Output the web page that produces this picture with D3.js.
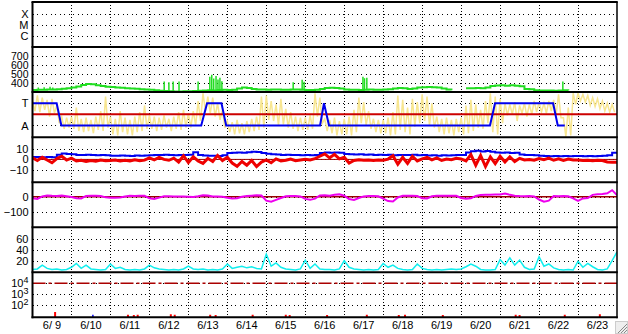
<!DOCTYPE html>
<html>
<head>
<meta charset="utf-8">
<script src="https://cdn.jsdelivr.net/npm/d3@7"></script>
<style>
body { margin: 0; background: #fff; }
svg { display: block; font-family: "Liberation Sans", Arial, sans-serif; font-size: 11px; }
</style>
</head>
<body>
<svg width="628" height="334"></svg>
<script>

// all series are 3-hour samples starting 6/9 00:00 UT
const startDay = Date.UTC(2000, 5, 9);
const stepHours = 3;
const nDays = 15;

// solar wind speed (km/s), null = no data
const speed = [
    322, 325, 326, 328, 330, 333, 338, 344,
    352, 362, 378, 390, 386, 375, 368, 360,
    356, 352, 348, 344, 340, 336, 332, 328,
    325, 320, 316, 312, 310, 308, 308, 310,
    310, 312, 315, 318, 320, 318, 322, 325,
    322, 325, 340, 350, 345, 335, 330, 328,
    326, 330, 328, 325, 327, 330, 328, 325,
    324, 322, 325, 335, 345, 348, 345, 340,
    330, 326, 325, 322, 325, 328, 326, 325,
    328, 332, 340, 345, 343, 335, 340, 350,
    355, 357, 355, 350, 340, 330, 320, null,
    null, 342, 344, 346, 344, 350, 368, 373,
    375, 372, 376, 370, 365, 335, 332, 320,
    318, 317, 318, 316, 318, 320, 318, null,
    null, null, null, null, null, null, null, null
];
const speedSpikeDays = [0.15, 0.3, 0.45, 0.52, 3.38, 3.5, 3.61, 3.76, 4.25, 4.55, 4.6, 4.65, 4.71, 4.76, 4.81, 4.86, 6.69, 6.92, 6.97, 8.48, 8.52, 8.58, 13.61];
const speedSpikeValues = [350, 355, 360, 352, 418, 410, 418, 418, 418, 470, 492, 450, 480, 440, 460, 420, 410, 437, 414, 470, 455, 460, 418];

// IMF sector: 1 = T (toward), -1 = A (away)
const sectorDays = [0, 0.62, 0.74, 4.33, 4.48, 4.85, 4.97, 7.38, 7.48, 7.61, 11.74, 11.87, 13.36, 13.48, 13.66];
const sectorValues = [1, 1, -1, -1, 1, 1, -1, -1, 1, -1, -1, 1, 1, -1, -1];
const sectorTicks = [1, -1];
const sectorLabels = ["T", "A"];

// measured field angle, high and low of each 3-hour bin (sector units)
const phiHigh = [
    1.2, 1.7, 1.5, 1.3, 1.4, 0.8, -0.2, -0.3,
    -0.2, 0.6, -0.4, -0.3, -0.5, -0.2, 0.3, 1.6,
    -0.2, -0.4, 0.3, -0.3, -0.5, -0.2, 0.2, 0.8,
    -0.1, -0.2, -0.3, -0.1, -0.4, -0.2, 0.2, 0.4,
    0.1, 0.3, 1.2, 1.9, 1.6, 1.5, 1.0, 0.4,
    -0.6, -0.7, -0.5, -0.8, -0.6, -0.4, -0.2, 1.6,
    1.7, 1.2, 0.9, 1.4, 0.5, 0.2, -0.2, -0.3,
    -0.3, -0.1, 1.9, 1.5, -0.4, -0.5, -0.3, -0.6,
    -0.4, -0.2, 0.4, 1.5, 1.1, 0.3, -0.4, -0.5,
    -0.5, -0.3, 0.2, 1.7, 1.3, 0.6, 1.4, 1.1,
    1.8, 1.6, 1.0, -0.2, -0.4, -0.3, -0.5, -0.4,
    -0.3, 0.8, 1.3, 0.9, 0.4, 1.2, 1.9, 1.6,
    1.4, 1.0, 0.9, 1.1, 0.8, 1.0, 0.9, 1.2,
    1.1, 1.0, 1.2, 1.3, 1.8, -0.3, 0.6, 1.9,
    1.9, 1.8, 1.7, 1.5, 1.4, 1.2, 1.0, 0.9
];
const phiLow = [
    0.3, 0.2, 0.4, -0.2, 0.1, -0.8, -1.3, -1.2,
    -1.3, -1.5, -1.6, -1.5, -1.7, -1.4, -1.5, -1.2,
    -1.8, -1.9, -1.6, -1.8, -1.9, -1.6, -1.5, -1.3,
    -1.3, -1.5, -1.4, -1.2, -1.5, -1.3, -1.4, -1.2,
    -1.2, -1.0, -0.6, 0.3, 0.1, -0.2, -0.5, -1.2,
    -1.6, -1.8, -1.7, -1.8, -1.6, -1.5, -1.4, -1.2,
    -0.5, -0.6, -1.0, -0.9, -1.2, -1.3, -1.5, -1.4,
    -1.4, -1.3, -0.2, -0.8, -1.5, -1.7, -1.9, -1.8,
    -1.8, -1.9, -1.6, -0.8, -1.0, -1.3, -1.6, -1.7,
    -1.7, -1.9, -1.8, -1.4, -1.6, -1.8, -1.1, -0.8,
    -0.6, -1.0, -1.2, -1.6, -1.8, -1.7, -1.9, -1.6,
    -1.8, -1.7, -1.5, -1.2, -1.3, -0.8, -1.6, -1.8,
    -0.8, -0.1, 0.0, -0.6, 0.1, -0.2, 0.0, 0.2,
    0.2, 0.1, 0.3, 0.0, -0.3, -2.0, -1.9, 0.9,
    1.2, 1.1, 0.8, 0.7, 0.5, 0.3, 0.2, 0.2
];

// Bt and Bz (nT)
const bt = [
    2.4, 2.2, 2.0, 2.3, 2.1, 4.5, 5.6, 5.2,
    4.8, 4.3, 4.1, 4.4, 4.2, 4.0, 4.3, 3.9,
    3.6, 3.4, 3.8, 3.5, 3.3, 3.7, 3.5, 3.8,
    4.0, 4.3, 4.1, 4.4, 4.2, 4.0, 4.3, 4.1,
    4.5, 6.8, 4.2, 3.8, 3.4, 3.6, 3.2, 4.0,
    6.2, 6.4, 6.5, 6.3, 6.8, 7.2, 7.0, 6.0,
    5.5, 5.0, 4.6, 4.2, 4.4, 4.1, 4.3, 4.0,
    4.2, 4.0, 4.3, 6.2, 6.5, 6.3, 6.6, 6.4,
    5.2, 4.8, 4.6, 4.9, 4.4, 4.7, 4.3, 4.5,
    4.2, 4.4, 4.0, 4.3, 4.1, 4.2, 4.4, 4.0,
    4.1, 3.8, 4.0, 3.6, 3.9, 3.7, 4.0, 4.2,
    4.3, 6.5, 7.8, 8.2, 7.6, 8.0, 7.2, 6.5,
    6.3, 6.6, 6.2, 6.4, 4.6, 4.3, 4.1, 4.0,
    3.4, 3.2, 3.0, 3.3, 3.1, 3.2, 3.0, 3.3,
    3.2, 3.0, 3.3, 3.1, 3.2, 3.4, 4.0, 6.4,
    6.4
];
const bz = [
    1.5, -1.0, 2.0, -0.5, -3.2, 0.8, 3.0, -0.6,
    1.2, -1.5, -0.8, -2.0, -1.0, -1.8, -0.5, -1.2,
    -1.0, -0.5, -1.6, -0.8, -1.4, -0.3, -1.2, -0.7,
    1.5, -0.5, 2.0, 0.0, -0.8, 1.2, -2.5, 3.5,
    -3.0, 2.5, -1.5, -3.8, 1.0, -2.0, 3.8, -1.0,
    2.0, -3.5, -6.5, -2.0, -5.5, -1.0, -6.8, -2.5,
    -0.5, -3.2, 0.5, -1.5, -0.8, 0.3, -1.2, -0.5,
    0.2, -0.5, 0.8, 3.0, 5.2, 1.5, 4.8, 0.5,
    2.0, -3.5, -1.0, -0.3, -0.8, -0.5, -1.0, -0.6,
    -0.7, 0.3, 3.5, -4.5, 2.0, -3.8, 3.0, -1.5,
    0.5, 2.0, -0.5, 1.5, -1.0, 0.3, -0.2, 1.0,
    0.5, -1.5, 4.5, -5.5, 3.8, -6.8, 2.5, -4.0,
    3.0, -2.5, 2.5, -2.0, 1.0, -0.5, 0.0, -0.8,
    0.8, -0.3, 1.2, -0.8, 0.5, -1.0, 0.3, -0.6,
    -0.5, -1.0, -0.8, -1.2, -0.7, -1.0, -2.5, -2.8,
    -2.8
];
const bTicks = [10, 0, -10];

// Dst (nT)
const dst = [
    -10, -14, 2, 8, 6, 5, 7, 3,
    -2, -10, -11, 5, 7, 6, 5, -4,
    -6, -7, -5, 2, 6, 5, 7, 6,
    -10, -14, -6, 3, 3, 2, 2, 1,
    0, -1, 3, 9, 8, 2, 1, 0,
    -6, -11, -10, 0, 5, 7, 9, 8,
    -25, -32, -20, -8, 3, 4, 4, 2,
    -14, -20, -12, 8, 9, 7, 12, 15,
    6, -15, -21, -8, 2, 4, 4, 3,
    -12, -28, -30, -5, 6, 6, 7, 5,
    -10, -11, 3, 7, 7, 6, 7, 6,
    -8, -13, -10, 5, 11, 13, 12, 14,
    15, 20, 12, 6, 4, 3, 4, 2,
    -18, -32, -25, 4, 3, 4, 3, -10,
    -26, -11, -8, 12, 16, 18, 22, 42,
    10
];
const dstTicks = [0, -100];

// cyan index panel
const cyanIndex = [
    4, 5, 12, 6, 4, 5, 3, 4,
    8, 15, 6, 12, 5, 4, 3, 4,
    14, 6, 8, 4, 3, 4, 3, 5,
    12, 7, 5, 4, 3, 4, 3, 5,
    10, 5, 4, 5, 3, 4, 3, 5,
    14, 6, 8, 10, 7, 9, 6, 5,
    32, 10, 16, 8, 5, 4, 3, 5,
    21, 6, 14, 5, 4, 4, 3, 5,
    20, 8, 5, 4, 3, 4, 3, 4,
    15, 8, 12, 6, 4, 3, 4, 14,
    6, 4, 3, 4, 3, 4, 5, 4,
    5, 9, 14, 10, 4, 3, 3, 4,
    22, 12, 25, 12, 21, 8, 4, 5,
    27, 10, 14, 7, 4, 3, 4, 3,
    19, 8, 15, 9, 4, 3, 5, 20,
    36
];
const cyanTicks = [60, 40, 20];

// particle flux bits (log panel)
const protonDays = [0.58, 2.45, 2.6, 2.7, 3.55, 3.65, 4.56, 4.7, 5.65, 6.5, 6.6, 7.56, 8.58, 9.4, 9.56, 10.53, 12.4, 12.5, 13.66, 14.56];
const protonValues = [25, 14, 13, 14, 15, 14, 14, 13, 14, 14, 13, 13, 14, 13, 14, 13, 14, 13, 14, 15];
const electronDays = [1.55];
const electronValues = [14];
const fluxTicks = [1e4, 1e3, 1e2];
const fluxAlert = 1e4;

const flareClasses = ["X", "M", "C"];
const flareLevels = [1e-4, 1e-5, 1e-6];
const speedTicks = [700, 600, 500, 400];


const svg = d3.select('svg');

const x0 = 32.5, x1 = 617;
const plotW = x1 - x0;
const top0 = 2;
const panelH = 45.05;
const py = i => top0 + i * panelH;

const time = i => new Date(startDay + i * stepHours * 3600e3);
const dayTime = d => new Date(startDay + d * 864e5);

const x = d3.scaleUtc()
    .domain([new Date(startDay), dayTime(nDays)])
    .range([x0, x1]);

const yFlare = d3.scaleLog().domain([10 ** -7.05, 10 ** -2.95]).range([py(1), py(0)]);
const ySpeed = d3.scaleLinear().domain([300, 801]).range([py(2), py(1)]);
const ySector = d3.scaleLinear().domain([-2.05, 2]).range([py(3), py(2)]);
const yB = d3.scaleLinear().domain([-21.7, 21.2]).range([py(4), py(3)]);
const yDst = d3.scaleLinear().domain([-195.5, 93]).range([py(5), py(4)]);
const yCyan = d3.scaleLinear().domain([-1.1, 80.8]).range([py(6), py(5)]);
const yFlux = d3.scaleLog().domain([10 ** 0.905, 1e5]).range([py(7), py(6)]);

// clip paths, one per panel
const defs = svg.append('defs');
for (let i = 0; i < 7; i++) {
    defs.append('clipPath').attr('id', 'clip' + i)
        .append('rect')
        .attr('x', x0).attr('y', py(i))
        .attr('width', plotW).attr('height', panelH);
}

// vertical day grid
svg.append('g')
    .selectAll('line')
    .data(d3.utcDay.range(dayTime(1), dayTime(nDays)))
    .join('line')
    .attr('x1', d => Math.round(x(d)) + 0.5)
    .attr('x2', d => Math.round(x(d)) + 0.5)
    .attr('y1', py(0))
    .attr('y2', py(7))
    .attr('stroke', '#000')
    .attr('stroke-dasharray', '1,2')
    .attr('shape-rendering', 'crispEdges');

// y axes with dotted horizontal grid
function yAxis(scale, ticks, fmt) {
    const g = svg.append('g')
        .attr('transform', `translate(${x0},0)`)
        .call(d3.axisLeft(scale)
            .tickValues(ticks)
            .tickFormat(fmt)
            .tickSizeInner(-plotW)
            .tickSizeOuter(0)
            .tickPadding(4));
    g.attr('font-size', null).attr('font-family', null);
    g.select('.domain').remove();
    g.selectAll('.tick line')
        .attr('stroke', '#000')
        .attr('stroke-dasharray', '1,3.5')
        .attr('shape-rendering', 'crispEdges');
    g.selectAll('.tick text').attr('fill', '#000');
    return g;
}

yAxis(yFlare, flareLevels, (d, i) => flareClasses[i]);
yAxis(ySpeed, speedTicks, d3.format('d'))
    .selectAll('.tick text').attr('font-size', '10.5px');
yAxis(ySector, sectorTicks, (d, i) => sectorLabels[i]);
yAxis(yB, bTicks, d3.format('d'));
yAxis(yDst, dstTicks, d3.format('d'));
yAxis(yCyan, cyanTicks, d3.format('d'));

const fluxAxis = yAxis(yFlux, fluxTicks, () => '');
fluxAxis.selectAll('.tick text')
    .each(function(d) {
        const t = d3.select(this);
        t.append('tspan').text('10');
        t.append('tspan').attr('dy', '-0.5em').attr('font-size', '9px').text(Math.round(Math.log10(d)));
    });

// speed panel
const speedG = svg.append('g').attr('clip-path', 'url(#clip1)');
speedG.append('path')
    .datum(speed)
    .attr('fill', 'none')
    .attr('stroke', '#22dd22')
    .attr('stroke-width', 2)
    .attr('d', d3.line()
        .defined(d => d != null)
        .x((d, i) => x(time(i)))
        .y(d => ySpeed(d))
        .curve(d3.curveStepAfter));
speedG.selectAll('line')
    .data(speedSpikeDays)
    .join('line')
    .attr('x1', d => x(dayTime(d)))
    .attr('x2', d => x(dayTime(d)))
    .attr('y1', d => ySpeed(speed[Math.floor(d * 24 / stepHours)]))
    .attr('y2', (d, i) => ySpeed(speedSpikeValues[i]))
    .attr('stroke', '#22dd22')
    .attr('stroke-width', 1.5);

// sector panel: zigzag through the high and low of each bin
const phiPoints = [];
phiHigh.forEach((h, i) => {
    phiPoints.push([time(i), h]);
    phiPoints.push([time(i + 0.5), phiLow[i]]);
});
const sectorG = svg.append('g').attr('clip-path', 'url(#clip2)');
sectorG.append('path')
    .datum(phiPoints)
    .attr('fill', 'none')
    .attr('stroke', '#f8e690')
    .attr('stroke-width', 1.5)
    .attr('d', d3.line().x(d => x(d[0])).y(d => ySector(d[1])));
sectorG.append('line')
    .attr('x1', x0).attr('x2', x1)
    .attr('y1', ySector(0)).attr('y2', ySector(0))
    .attr('stroke', '#cc0000')
    .attr('stroke-width', 2);
sectorG.append('path')
    .datum(sectorDays)
    .attr('fill', 'none')
    .attr('stroke', '#0000ee')
    .attr('stroke-width', 2)
    .attr('d', d3.line().x(d => x(dayTime(d))).y((d, i) => ySector(sectorValues[i])));

// B panel
const bG = svg.append('g').attr('clip-path', 'url(#clip3)');
bG.append('line')
    .attr('x1', x0).attr('x2', x1)
    .attr('y1', yB(0)).attr('y2', yB(0))
    .attr('stroke', '#990000')
    .attr('stroke-width', 1);
bG.append('path')
    .datum(bt)
    .attr('fill', 'none')
    .attr('stroke', '#0000ee')
    .attr('stroke-width', 2)
    .attr('d', d3.line().x((d, i) => x(time(i))).y(d => yB(d)).curve(d3.curveStepAfter));
bG.append('path')
    .datum(bz)
    .attr('fill', 'none')
    .attr('stroke', '#ee0000')
    .attr('stroke-width', 3)
    .attr('d', d3.line().x((d, i) => x(time(i))).y(d => yB(d)));

// Dst panel
const dstG = svg.append('g').attr('clip-path', 'url(#clip4)');
dstG.append('line')
    .attr('x1', x0).attr('x2', x1)
    .attr('y1', yDst(0)).attr('y2', yDst(0))
    .attr('stroke', '#990000')
    .attr('stroke-width', 1.5);
dstG.append('path')
    .datum(dst)
    .attr('fill', 'none')
    .attr('stroke', '#ee00ee')
    .attr('stroke-width', 2)
    .attr('d', d3.line().x((d, i) => x(time(i))).y(d => yDst(d)));

// cyan panel
svg.append('g').attr('clip-path', 'url(#clip5)')
    .append('path')
    .datum(cyanIndex)
    .attr('fill', 'none')
    .attr('stroke', '#11eeee')
    .attr('stroke-width', 1.5)
    .attr('d', d3.line().x((d, i) => x(time(i))).y(d => yCyan(d)));

// flux panel
const fluxG = svg.append('g').attr('clip-path', 'url(#clip6)');
fluxG.append('line')
    .attr('x1', x0).attr('x2', x1)
    .attr('y1', yFlux(fluxAlert)).attr('y2', yFlux(fluxAlert))
    .attr('stroke', '#aa0000')
    .attr('stroke-width', 1.5)
    .attr('stroke-dasharray', '13,3,3,3');
fluxG.selectAll('line.p')
    .data(protonDays)
    .join('line')
    .attr('class', 'p')
    .attr('x1', d => x(dayTime(d)))
    .attr('x2', d => x(dayTime(d)))
    .attr('y1', py(7))
    .attr('y2', (d, i) => yFlux(protonValues[i]))
    .attr('stroke', '#ff0000')
    .attr('stroke-width', 2);
fluxG.selectAll('line.e')
    .data(electronDays)
    .join('line')
    .attr('class', 'e')
    .attr('x1', d => x(dayTime(d)))
    .attr('x2', d => x(dayTime(d)))
    .attr('y1', py(7))
    .attr('y2', (d, i) => yFlux(electronValues[i]))
    .attr('stroke', '#0000ff')
    .attr('stroke-width', 1.5);

// frame: panel dividers, left axis, right border
svg.append('g')
    .selectAll('line')
    .data(d3.range(8))
    .join('line')
    .attr('x1', x0 - 1).attr('x2', x1 + 0.75)
    .attr('y1', d => py(d)).attr('y2', d => py(d))
    .attr('stroke', '#000')
    .attr('stroke-width', 2);
svg.append('line')
    .attr('x1', x0).attr('x2', x0)
    .attr('y1', py(0)).attr('y2', py(7) + 1)
    .attr('stroke', '#000').attr('stroke-width', 2);
svg.append('line')
    .attr('x1', x1).attr('x2', x1)
    .attr('y1', py(0)).attr('y2', py(7) + 1)
    .attr('stroke', '#000').attr('stroke-width', 1.5);

// day labels at noon
svg.append('g')
    .selectAll('text')
    .data(d3.range(nDays))
    .join('text')
    .attr('x', d => x(dayTime(d + 0.5)))
    .attr('y', 329)
    .attr('text-anchor', 'middle')
    .text(d => d3.utcFormat('%-m/%e')(dayTime(d)));

// window resize grip
const grip = svg.append('g');
grip.append('rect')
    .attr('x', 615.5).attr('y', 321.5).attr('width', 12).attr('height', 12)
    .attr('fill', '#eeeeee').attr('stroke', '#cccccc');
[[618, 333, 627, 324], [621, 333, 627, 327], [624, 333, 627, 330]].forEach(s => {
    grip.append('line')
        .attr('x1', s[0]).attr('y1', s[1]).attr('x2', s[2]).attr('y2', s[3])
        .attr('stroke', '#888');
});

</script>
</body>
</html>
